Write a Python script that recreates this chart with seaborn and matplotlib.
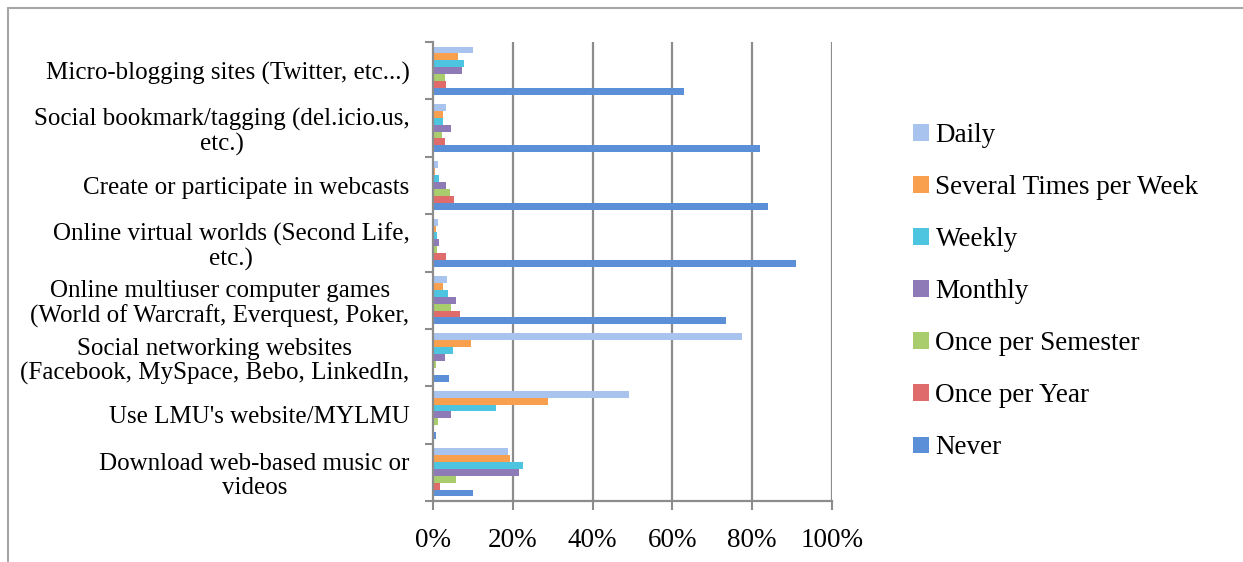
import matplotlib
matplotlib.use("Agg")
import matplotlib.pyplot as plt
from matplotlib.lines import Line2D
from matplotlib.ticker import FixedLocator, FuncFormatter
import seaborn as sns
import pandas as pd

categories = [
    "Micro-blogging sites (Twitter, etc...)",
    "Social bookmark/tagging (del.icio.us,\netc.)",
    "Create or participate in webcasts",
    "Online virtual worlds (Second Life,\netc.)",
    "Online multiuser computer games\n(World of Warcraft, Everquest, Poker,",
    "Social networking websites\n(Facebook, MySpace, Bebo, LinkedIn,",
    "Use LMU's website/MYLMU",
    "Download web-based music or\nvideos",
]
series_names = ["Daily", "Several Times per Week", "Weekly", "Monthly",
                "Once per Semester", "Once per Year", "Never"]
daily = [10.0, 3.2, 1.3, 1.3, 3.5, 77.4, 49.0, 18.8]
several = [6.3, 2.5, 0.5, 0.8, 2.5, 9.5, 28.9, 19.3]
weekly = [7.8, 2.5, 1.5, 1.0, 3.8, 5.0, 15.8, 22.6]
monthly = [7.3, 4.5, 3.3, 1.5, 5.8, 3.0, 4.5, 21.6]
semester = [3.0, 2.3, 4.3, 1.0, 4.5, 0.8, 1.3, 5.8]
year = [3.3, 3.0, 5.3, 3.3, 6.8, 0.3, 0.3, 1.8]
never = [62.8, 82.0, 84.0, 91.0, 73.4, 4.0, 0.8, 10.0]
x_ticks = [0, 20, 40, 60, 80, 100]

colors = ["#A8C4EE", "#F9A04E", "#4DC4E0", "#8F7AB8", "#A9CC6C", "#E06B6B", "#5B8FD8"]

all_series = [daily, several, weekly, monthly, semester, year, never]
rows = []
for name, vals in zip(series_names, all_series):
    for cat, v in zip(categories, vals):
        rows.append({"Category": cat, "Frequency": name, "Percent": v})
df = pd.DataFrame(rows)

sns.set_theme(style="white")
plt.rcParams["font.family"] = ["Liberation Serif", "DejaVu Serif"]
plt.rcParams["text.color"] = "black"

W, H = 1243, 562
fig = plt.figure(figsize=(W / 100, H / 100), dpi=100)
ax = fig.add_axes([433 / W, 1 - 501 / H, (832 - 433) / W, (501 - 42) / H])

sns.barplot(data=df, y="Category", x="Percent", hue="Frequency",
            order=categories, hue_order=series_names, palette=colors,
            orient="h", width=0.84, gap=0, ax=ax, saturation=1,
            edgecolor="none", linewidth=0)

grid_c = "#8C8C8C"
ax.set_xlim(0, 100)
ax.set_ylim(len(categories) - 0.5, -0.5)
ax.set_axisbelow(True)
for t in x_ticks[1:]:
    ax.axvline(t, color=grid_c, lw=1.6, zorder=0)

ax.set_xticks(x_ticks)
ax.xaxis.set_major_formatter(FuncFormatter(lambda v, p: f"{v:.0f}%"))
ax.tick_params(axis="x", which="major", length=6.5, width=1.5, color=grid_c,
               direction="out", bottom=True, pad=13, labelsize=19.5, labelcolor="black")

ax.set_yticks(range(len(categories)))
ax.set_yticklabels(categories, fontsize=18, multialignment="center", linespacing=1.12)
ax.yaxis.set_minor_locator(FixedLocator([i - 0.5 for i in range(len(categories) + 1)]))
ax.tick_params(axis="y", which="major", length=0, pad=17, labelcolor="black")
ax.tick_params(axis="y", which="minor", length=6, width=1.5, color=grid_c,
               direction="out", left=True)

ax.set_xlabel("")
ax.set_ylabel("")
for s in ["top", "right"]:
    ax.spines[s].set_visible(False)
for s in ["left", "bottom"]:
    ax.spines[s].set_color(grid_c)
    ax.spines[s].set_linewidth(1.6)

handles, labels = ax.get_legend_handles_labels()
ax.get_legend().remove()
fig.legend(handles, labels, loc="upper left",
           bbox_to_anchor=(913 / W, 1 - 123 / H), frameon=False,
           fontsize=19.5, handlelength=0.58, handleheight=0.58,
           handletextpad=0.25, labelspacing=1.0, borderpad=0, borderaxespad=0,
           labelcolor="black")

frame_c = "#A6A6A6"
fig.add_artist(Line2D([7.5 / W, 7.5 / W], [0, 1 - 8 / H], transform=fig.transFigure,
                      color=frame_c, lw=1.5))
fig.add_artist(Line2D([7.5 / W, 1], [1 - 8 / H, 1 - 8 / H], transform=fig.transFigure,
                      color=frame_c, lw=1.5))

fig.savefig("out.png", dpi=100, facecolor="white")
